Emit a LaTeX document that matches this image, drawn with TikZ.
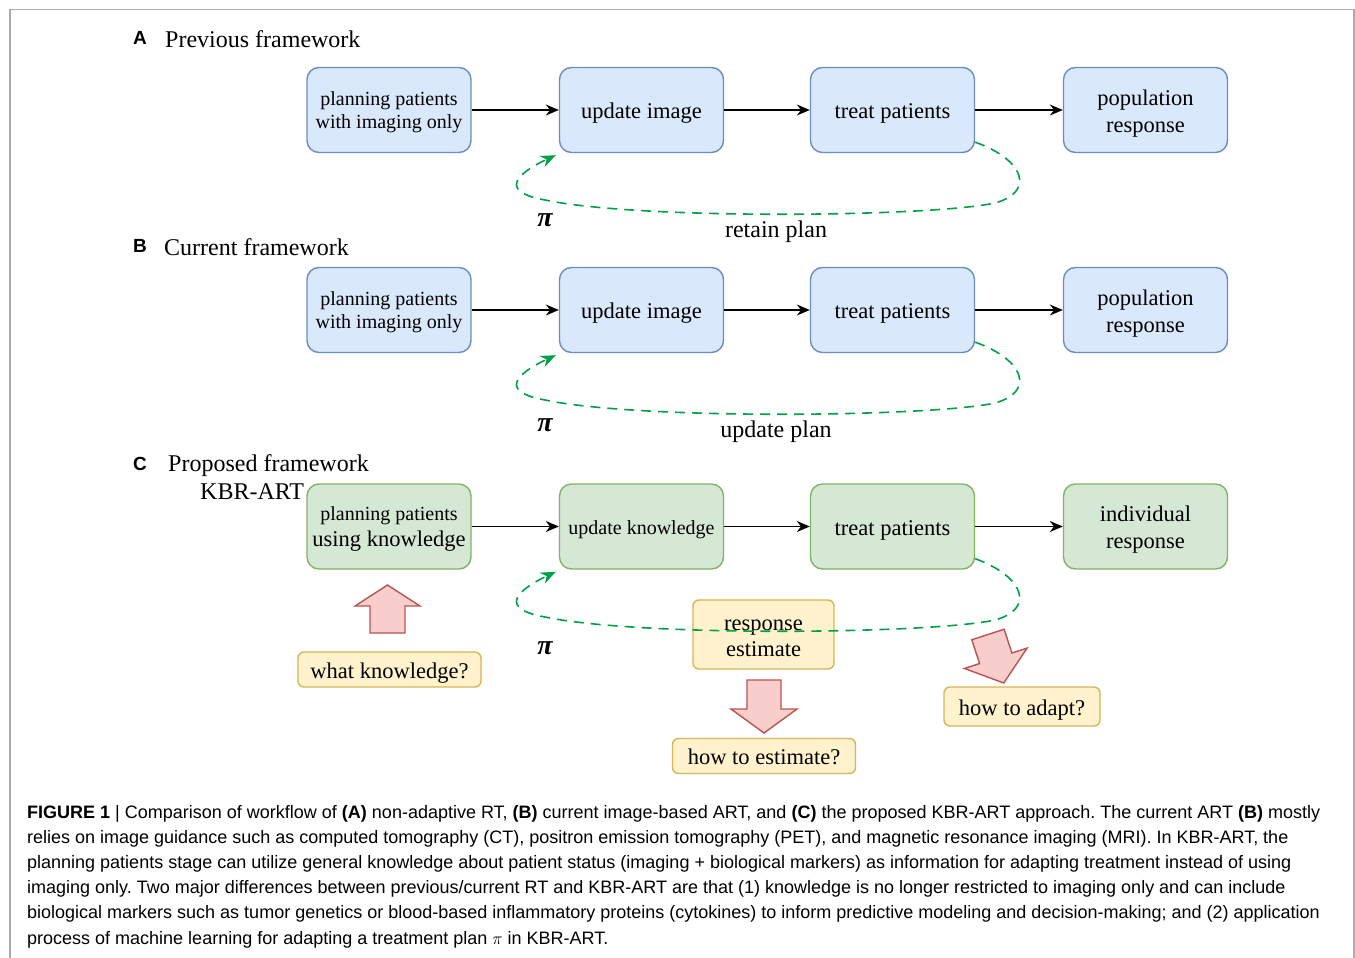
\documentclass[tikz,border=0pt]{standalone}
\usepackage{fontspec}
\setmainfont{Liberation Serif}
\newfontfamily\capfont{Liberation Sans}
\usetikzlibrary{arrows.meta,calc}
\frenchspacing

\definecolor{blueFill}{HTML}{DAE8FC}
\definecolor{blueLine}{HTML}{6C8EBF}
\definecolor{greenFill}{HTML}{D5E8D4}
\definecolor{greenLine}{HTML}{82B366}
\definecolor{yelFill}{HTML}{FFF2CC}
\definecolor{yelLine}{HTML}{D6B656}
\definecolor{redFill}{HTML}{F8CECC}
\definecolor{redLine}{HTML}{B85450}
\definecolor{loopGreen}{HTML}{00A047}
\definecolor{frameGray}{HTML}{ABABAB}

\newcommand\boxtxt{\fontsize{22.5}{27}\selectfont}
\newcommand\smalltxt{\fontsize{20}{23}\selectfont}
\newcommand\headtxt{\fontsize{24}{28}\selectfont}
\newcommand\captxt{\capfont\fontsize{18}{25}\selectfont}
% invisible strut that lowers a multi-line label a little
\newcommand\lift[1]{\rule{0pt}{#1}}

\tikzset{
  % a tall strut on the first line keeps the labels slightly below centre
  struts/.style={execute at begin node={\rule{0pt}{1em}}},
  deep/.style={execute at end node={\rule[-0.22em]{0pt}{0.22em}}},
  stage/.style={rounded corners=12pt, line width=1.4pt, minimum width=164pt,
    minimum height=85pt, align=center, inner sep=2pt, font=\boxtxt, struts},
  bluebox/.style={stage, draw=blueLine, fill=blueFill},
  greenbox/.style={stage, draw=greenLine, fill=greenFill},
  note/.style={rounded corners=6pt, line width=1.4pt, draw=yelLine, fill=yelFill,
    align=center, inner sep=1pt, font=\fontsize{22.5}{26}\selectfont, struts},
  flow/.style={-{Stealth[length=13pt,width=11pt]}, line width=1.5pt},
  feedback/.style={draw=loopGreen, line width=1.6pt, dash pattern=on 10pt off 7pt,
    -{Stealth[length=15pt,width=12pt]}},
  blockarrow/.style={draw=redLine, fill=redFill, line width=1.4pt, line join=miter},
  panel/.style={anchor=base west, inner sep=0pt, font=\capfont\bfseries\fontsize{19}{22}\selectfont},
  heading/.style={anchor=base west, inner sep=0pt, font=\headtxt},
  pilabel/.style={inner sep=0pt, font=\fontsize{28}{30}\selectfont\bfseries\itshape},
  planlabel/.style={anchor=base, inner sep=0pt, font=\headtxt},
  capline/.style={anchor=base west, inner sep=0pt, font=\captxt},
}

\begin{document}
\begin{tikzpicture}[x=1pt, y=-1pt]
\useasboundingbox (0,0) rectangle (1355,958);

% outer frame, open at the bottom
\draw[frameGray, line width=1.2pt] (10,958) -- (10,9.5) -- (1354,9.5) -- (1354,958);

% ---------- A: previous framework ----------
\node[panel] (labA) at (133,45) {A};
\node[heading] (headA) at (165,48) {Previous framework};
\node[bluebox, font=\smalltxt] (pA) at (389,110) {\lift{18pt}planning patients\\with imaging only};
\node[bluebox] (uA) at (641.5,110) {update image};
\node[bluebox] (tA) at (892.5,110) {treat patients};
\node[bluebox] (rA) at (1145.5,110) {\lift{23.5pt}population\\response};
\draw[flow] (pA) -- (uA);
\draw[flow] (uA) -- (tA);
\draw[flow] (tA) -- (rA);
\draw[feedback] ([yshift=11pt]tA.south east)
  .. controls (1025,160) and (1035,192) .. (995,203)
  .. controls (930,217) and (640,220) .. (545,200)
  .. controls (490,190) and (528,168) .. ([shift={(-3pt,-2pt)}]uA.south west);
\node[pilabel] (piA) at (545,220) {π};
\node[planlabel] (planA) at (776,237) {retain plan};

% ---------- B: current framework ----------
\node[panel] (labB) at (133,252) {B};
\node[heading] (headB) at (164,255) {Current framework};
\node[bluebox, font=\smalltxt] (pB) at (389,310) {\lift{18pt}planning patients\\with imaging only};
\node[bluebox] (uB) at (641.5,310) {update image};
\node[bluebox] (tB) at (892.5,310) {treat patients};
\node[bluebox] (rB) at (1145.5,310) {\lift{23.5pt}population\\response};
\draw[flow] (pB) -- (uB);
\draw[flow] (uB) -- (tB);
\draw[flow] (tB) -- (rB);
\begin{scope}[shift={(0,200)}]
\draw[feedback] ([yshift=11pt]tB.south east)
  .. controls (1025,160) and (1035,192) .. (995,203)
  .. controls (930,217) and (640,220) .. (545,200)
  .. controls (490,190) and (528,168) .. ([shift={(-3pt,-2pt)}]uB.south west);
\end{scope}
\node[pilabel] (piB) at (545,425) {π};
\node[planlabel] (planB) at (776,437) {update plan};

% ---------- C: proposed framework ----------
\node[panel] (labC) at (133,470) {C};
\node[heading] (headC) at (168,471) {Proposed framework};
\node[heading] (headC2) at (200,499) {KBR-ART};
\node[greenbox, font=\fontsize{22.5}{26}\selectfont] (pC) at (389,526.5)
  {{\smalltxt\lift{19pt}planning patients}\\using knowledge};
\node[greenbox, font=\smalltxt] (uC) at (641.5,526.5) {update knowledge};
\node[greenbox] (tC) at (892.5,526.5) {treat patients};
\node[greenbox] (rC) at (1145.5,526.5) {\lift{21.5pt}individual\\response};
\draw[flow] (pC) -- (uC);
\draw[flow] (uC) -- (tC);
\draw[flow] (tC) -- (rC);

\node[note, minimum width=183pt, minimum height=35pt] (qKnow) at (389.5,669.5) {what knowledge?};
\node[note, minimum width=141pt, minimum height=69pt] (resp) at (763.5,634.5) {\lift{18.5pt}response\\estimate};
\node[note, deep, minimum width=183pt, minimum height=35pt] (qEst) at (764,756) {how to estimate?};
\node[note, minimum width=156pt, minimum height=39pt] (qAdapt) at (1022,706.5) {how to adapt?};

\begin{scope}[shift={(0,417)}]
\draw[feedback] ([yshift=11pt]tC.south east)
  .. controls (1025,160) and (1035,192) .. (995,203)
  .. controls (930,217) and (640,220) .. (545,200)
  .. controls (490,190) and (528,168) .. ([shift={(-3pt,-2pt)}]uC.south west);
\end{scope}
\node[pilabel] (piC) at (545,648) {π};

% block arrows
\draw[blockarrow] (370,633) -- (370,606) -- (355,606) -- (387.5,585) -- (420,606)
  -- (405,606) -- (405,633) -- cycle;
\draw[blockarrow] (747,680) -- (781,680) -- (781,709) -- (797,709) -- (764,733)
  -- (731,709) -- (747,709) -- cycle;
\begin{scope}[shift={(988,634.5)}, rotate=18]
\draw[blockarrow] (-17,0) -- (17,0) -- (17,25) -- (33,25) -- (0,51) -- (-33,25)
  -- (-17,25) -- cycle;
\end{scope}

% ---------- caption ----------
\node[capline] (cap1) at (27,818) {\textbf{FIGURE 1} | Comparison of workflow of \textbf{(A)} non-adaptive RT, \textbf{(B)} current image-based ART, and \textbf{(C)} the proposed KBR-ART approach. The current ART \textbf{(B)} mostly};
\node[capline] (cap2) at (27,843) {relies on image guidance such as computed tomography (CT), positron emission tomography (PET), and magnetic resonance imaging (MRI). In KBR-ART, the};
\node[capline] (cap3) at (27,868) {planning patients stage can utilize general knowledge about patient status (imaging + biological markers) as information for adapting treatment instead of using};
\node[capline] (cap4) at (27,893) {imaging only. Two major differences between previous/current RT and KBR-ART are that (1) knowledge is no longer restricted to imaging only and can include};
\node[capline] (cap5) at (27,918) {biological markers such as tumor genetics or blood-based inflammatory proteins (cytokines) to inform predictive modeling and decision-making; and (2) application};
\node[capline] (cap6) at (27,944) {process of machine learning for adapting a treatment plan $\pi$ in KBR-ART.};
\end{tikzpicture}
\end{document}
